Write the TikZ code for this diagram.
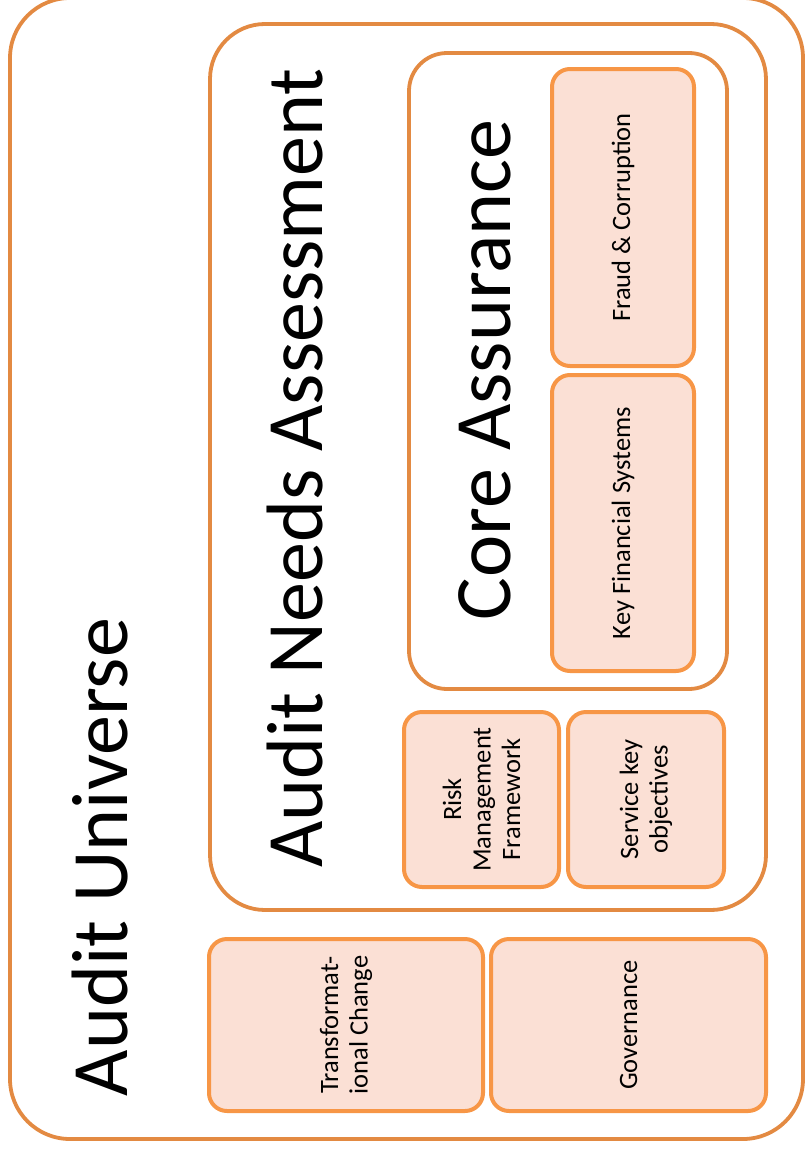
\documentclass[tikz,border=0pt]{standalone}
\usepackage{fontspec}
\setmainfont{Carlito}
\usepackage{xcolor}
\usepackage{tikz}
\usetikzlibrary{positioning}
\definecolor{xrim}{RGB}{227,138,66}
\definecolor{xtopic}{RGB}{247,150,70}
\definecolor{xblush}{RGB}{251,224,213}

\begin{document}
\begin{tikzpicture}[x=1pt, y=-1pt,
  bigbox/.style={draw=xrim, line width=3.8pt, rounded corners=#1, inner sep=0pt},
  heading/.style={rotate=90, inner sep=0pt, font=\fontsize{80}{80}\selectfont},
  topic/.style={draw=xtopic, fill=xblush, line width=4pt, rounded corners=18pt,
                rotate=90, inner sep=0pt, align=center,
                font=\fontsize{26.5}{29.5}\selectfont}
]
  \useasboundingbox (0,0) rectangle (806,1151);

  % containers
  \node[bigbox=60pt, minimum width=793pt, minimum height=1141pt] (universe) at (406.5,568.5) {};
  \node[heading] (universe title) at (100,857) {Audit Universe};
  \node[bigbox=55pt, minimum width=556pt, minimum height=886pt] (needs) at (488,467) {};
  \node[heading] (needs title) at (295,468) {Audit Needs Assessment};
  \node[bigbox=38pt, minimum width=318pt, minimum height=636pt] (core) at (568,371) {};
  \node[heading] (core title) at (485,370) {Core Assurance};

  % topic boxes (rotated, so width runs down the page)
  \node[topic, minimum width=297pt, minimum height=142pt] (fraud) at (623,217.5) {Fraud \& Corruption};
  \node[topic, minimum width=296pt, minimum height=142pt] (financial) at (623,523) {Key Financial Systems};
  \node[topic, minimum width=175pt, minimum height=155pt] (risk) at (481.5,799.5) {Risk\\Management\\Framework};
  \node[topic, minimum width=175pt, minimum height=156pt] (service) at (646,799.5) {Service key\\objectives};
  \node[topic, minimum width=172pt, minimum height=274pt] (change) at (346,1025) {Transformat-\\ional Change};
  \node[topic, minimum width=172pt, minimum height=275pt] (governance) at (628.5,1025) {Governance};
\end{tikzpicture}
\end{document}
